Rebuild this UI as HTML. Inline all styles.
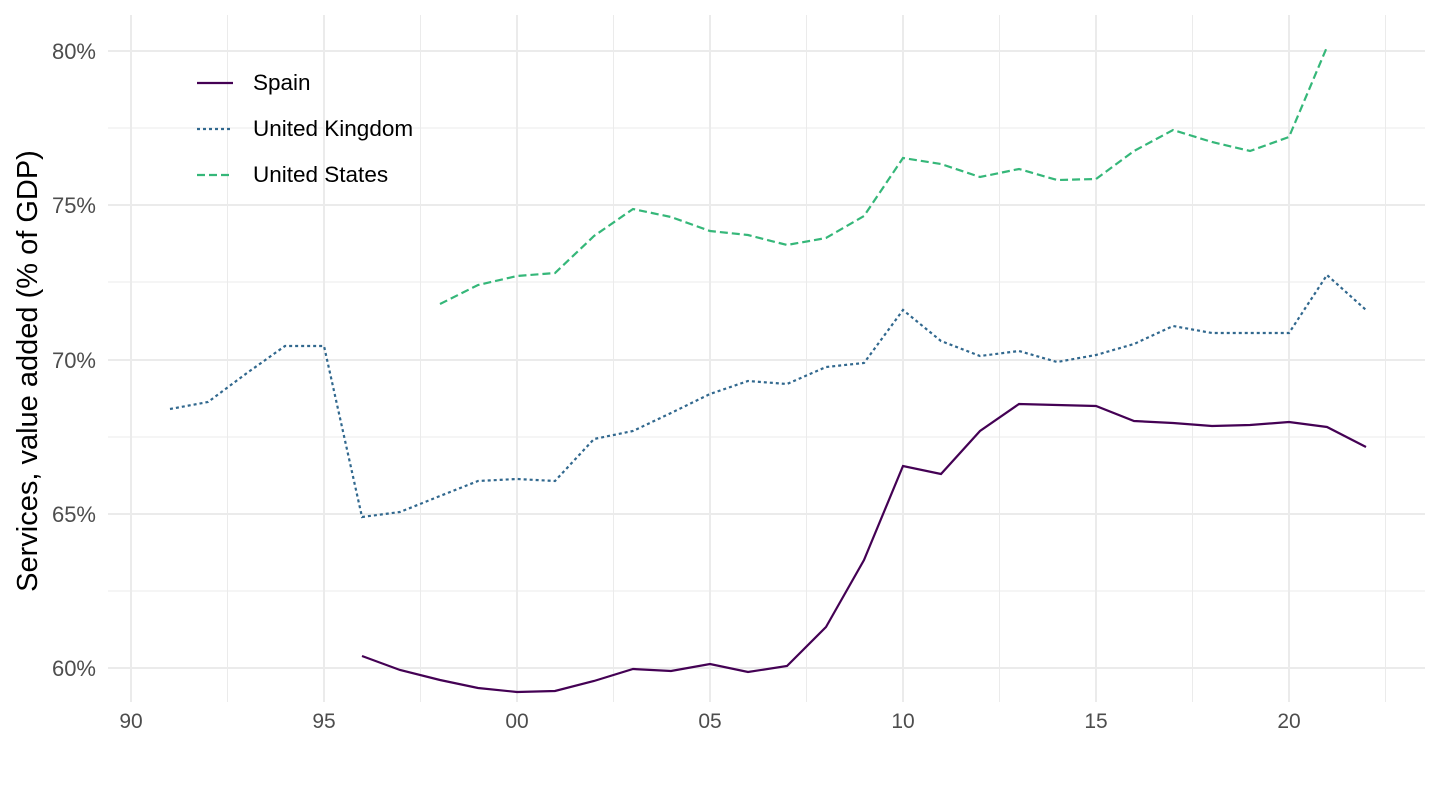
<!DOCTYPE html>
<html><head><meta charset="utf-8"><style>body{margin:0;background:#fff}svg{display:block;font-family:"Liberation Sans",sans-serif}</style></head><body>
<svg width="1440" height="810" viewBox="0 0 1440 810" xmlns="http://www.w3.org/2000/svg">
<g stroke="#ebebeb" stroke-width="1">
<line x1="108" x2="1425" y1="128" y2="128"/><line x1="108" x2="1425" y1="282" y2="282"/><line x1="108" x2="1425" y1="437" y2="437"/><line x1="108" x2="1425" y1="591" y2="591"/>
<line x1="227.5" x2="227.5" y1="15" y2="702"/><line x1="420.5" x2="420.5" y1="15" y2="702"/><line x1="613.5" x2="613.5" y1="15" y2="702"/><line x1="806.5" x2="806.5" y1="15" y2="702"/><line x1="999.5" x2="999.5" y1="15" y2="702"/><line x1="1192.5" x2="1192.5" y1="15" y2="702"/><line x1="1385.5" x2="1385.5" y1="15" y2="702"/>
</g>
<g stroke="#ebebeb" stroke-width="2">
<line x1="108" x2="1425" y1="51" y2="51"/><line x1="108" x2="1425" y1="205" y2="205"/><line x1="108" x2="1425" y1="360" y2="360"/><line x1="108" x2="1425" y1="514" y2="514"/><line x1="108" x2="1425" y1="668" y2="668"/>
<line x1="131" x2="131" y1="15" y2="702"/><line x1="324" x2="324" y1="15" y2="702"/><line x1="517" x2="517" y1="15" y2="702"/><line x1="710" x2="710" y1="15" y2="702"/><line x1="903" x2="903" y1="15" y2="702"/><line x1="1096" x2="1096" y1="15" y2="702"/><line x1="1289" x2="1289" y1="15" y2="702"/>
</g>
<g font-size="22" fill="#4d4d4d" text-anchor="end">
<text x="96" y="59">80%</text><text x="96" y="213">75%</text><text x="96" y="368">70%</text><text x="96" y="522">65%</text><text x="96" y="676">60%</text>
</g>
<g font-size="21" fill="#4d4d4d" text-anchor="middle">
<text x="131" y="728">90</text><text x="324" y="728">95</text><text x="517" y="728">00</text><text x="710" y="728">05</text><text x="903" y="728">10</text><text x="1096" y="728">15</text><text x="1289" y="728">20</text>
</g>
<text transform="translate(27,371) rotate(-90)" font-size="29" text-anchor="middle" dy="10" fill="#000">Services, value added (% of GDP)</text>
<g fill="none" stroke-width="2.2">
<polyline stroke="#440154" points="362,656 400,670 440,680 478,688 517,692 555,691 594,681 633,669 671,671 710,664 748,672 787,666 826,627 864,560 903,466 941,474 980,431 1019,404 1057,405 1096,406 1134,421 1173,423 1212,426 1250,425 1289,422 1327,427 1366,447"/>
<polyline stroke="#31688e" stroke-dasharray="3,3" points="170,409 208,402 247,373 285,346 324,346 362,517 400,512 440,496 478,481 517,479 555,481 594,439 633,431 671,413 710,394 748,381 787,384 826,367 864,363 903,310 941,341 980,356 1019,351 1057,362 1096,355 1134,344 1173,326 1212,333 1250,333 1289,333 1327,275 1366,310"/>
<polyline stroke="#35b779" stroke-dasharray="8,4" points="440,304 478,285 517,276 555,273 594,236 633,209 671,217 710,231 748,235 787,245 826,238 864,216 903,158 941,164 980,177 1019,169 1057,180 1096,179 1134,151 1173,130 1212,142 1250,151 1289,137 1327,47"/>
<line stroke="#440154" x1="197" x2="233" y1="83" y2="83"/>
<line stroke="#31688e" stroke-dasharray="3,3" x1="197" x2="233" y1="129" y2="129"/>
<line stroke="#35b779" stroke-dasharray="8,4" x1="197" x2="233" y1="175" y2="175"/>
</g>
<g font-size="22.5" fill="#000">
<text x="253" y="90">Spain</text><text x="253" y="136">United Kingdom</text><text x="253" y="182">United States</text>
</g>
</svg>
</body></html>
